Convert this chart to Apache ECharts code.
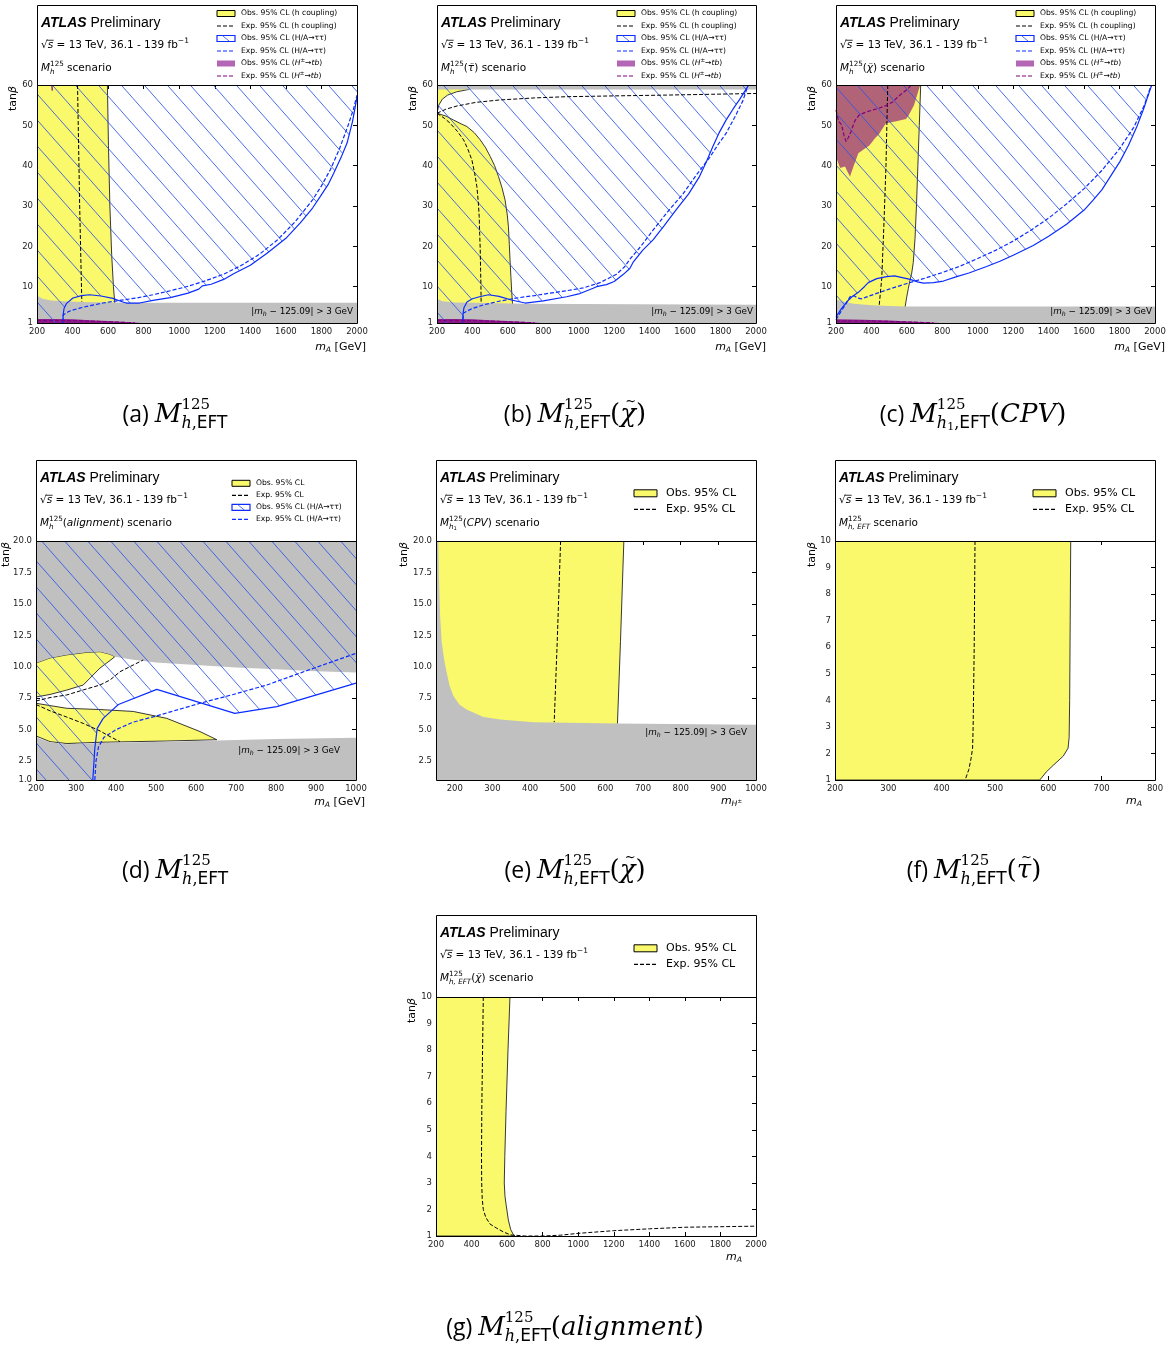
<!DOCTYPE html>
<html><head><meta charset="utf-8">
<script src="https://cdn.jsdelivr.net/npm/echarts@6/dist/echarts.min.js"></script>
<style>html,body{margin:0;padding:0;background:#fff}#main{width:1173px;height:1352px}</style>
</head><body><div id="main"></div>
<script>
// ---------------- tick labels ----------------
const X_TICKS_2000 = [200,400,600,800,1000,1200,1400,1600,1800,2000];
const X_TICKS_1000 = [200,300,400,500,600,700,800,900,1000];
const X_TICKS_800 = [200,300,400,500,600,700,800];
const Y_TICKS_60 = [1,10,20,30,40,50,60];
const Y_TICKS_20D = [1,2.5,5,7.5,10,12.5,15,17.5,20];
const Y_TICKS_20E = [2.5,5,7.5,10,12.5,15,17.5,20];
const Y_TICKS_10 = [1,2,3,4,5,6,7,8,9,10];

// ---------------- (a) M_h^125 ----------------
const A_YELLOW = [[200,1],[200,60],[596,60],[602,45],[610,30],[620,18],[630,10],[637,6.2],[637,1]];
const A_EXP = [[428,60],[440,30],[452,6.3]];
const A_GREY = [[200,1],[200,7.8],[230,7.0],[280,6.6],[350,6.4],[450,6.2],[600,6.1],[800,6.0],[2000,6.0],[2000,1]];
const A_TT_OBS = [[346,1],[347,3.0],[352,4.6],[365,5.8],[402,7.2],[450,7.8],[496,8.0],[560,7.7],[627,7.1],[670,6.4],[702,5.95],[777,5.95],[852,6.6],[950,7.3],[1050,8.4],[1110,9.4],[1130,10.2],[1180,10.6],[1250,11.8],[1306,13.2],[1400,15.3],[1494,18.3],[1600,22],[1681,25.8],[1750,29.5],[1794,32.4],[1840,35.5],[1869,38.1],[1910,42],[1944,45.6],[1975,51],[2000,57]];
const A_TT_EXP = [[346,1.2],[347,3.0],[380,3.9],[440,4.7],[500,5.3],[571,5.95],[650,6.5],[759,7.2],[852,8.0],[950,9.0],[1050,10.1],[1150,11.5],[1250,13.1],[1350,15.3],[1450,18],[1550,21.5],[1650,26],[1750,31.5],[1800,35],[1850,39],[1900,44],[1950,50],[1980,54],[2000,57.5]];
const A_HPM_OBS = [[200,1],[200,2.0],[300,2.0],[400,1.9],[500,1.7],[600,1.5],[700,1.25],[790,1.0]];
const A_HPM_EXP = [[200,1.6],[400,1.6],[600,1.3],[750,1.05]];
const A_HPM_EXP_TOP = [[284,60],[286,58.6]];

// ---------------- (b) M_h^125(stau) ----------------
const B_YELLOW_UP = [[200,53],[210,55],[230,56.5],[260,57.5],[310,58.3],[380,58.9],[420,60],[200,60]];
const B_YELLOW_LOW = [[200,1],[200,53],[250,52.3],[294,51.3],[330,50.5],[369,49.7],[410,48.2],[444,46.4],[475,44.4],[500,42.3],[525,40],[547,37.3],[567,34.5],[584,31.5],[596,28],[603,24.9],[608,20.5],[612,16.7],[617,12.5],[622,8.4],[626,6],[626,1]];
const B_EXP_UP = [[200,53],[250,54],[313,54.8],[420,55.7],[556,56.3],[750,56.8],[931,57.1],[1200,57.3],[1494,57.5],[1750,57.7],[2000,57.9]];
const B_EXP_LOW = [[200,53],[240,51.8],[275,50.5],[315,48.5],[350,46.4],[375,44],[397,41.4],[413,38],[425,34.8],[433,31],[438,27.4],[441,23],[444,19.2],[446,14],[448,10.1],[449,6]];
const B_GREY_TOP = [[200,58.9],[2000,58.9],[2000,60],[200,60]];
const B_GREY_BOT = [[200,1],[200,7.0],[230,6.4],[300,6.1],[400,6.0],[700,5.8],[1000,5.7],[2000,5.5],[2000,1]];
const B_TT_OBS = [[346,1],[347,3.3],[352,4.8],[369,6.2],[400,7.0],[440,7.5],[491,8.0],[550,7.6],[620,6.7],[697,5.95],[800,6.5],[931,7.5],[1000,8.2],[1081,9.6],[1100,10.0],[1156,10.5],[1200,11.3],[1250,13],[1288,14.5],[1306,16],[1360,19],[1419,21.6],[1480,25],[1550,29.1],[1620,33],[1681,37.3],[1720,41],[1756,44.7],[1790,48],[1831,51.3],[1870,54],[1906,56.3],[1953,59.6],[1960,60]];
const B_TT_EXP = [[346,1.8],[350,3.5],[400,4.6],[463,5.5],[550,6.4],[650,7.2],[750,7.8],[838,8.4],[931,9.0],[1025,9.7],[1120,11],[1213,13.1],[1260,15],[1288,16.8],[1350,20],[1419,24],[1500,28.5],[1588,33],[1660,37.5],[1738,42],[1790,45.5],[1831,48],[1880,52],[1925,56],[1953,59.6]];
const B_HPM_OBS = [[200,1],[200,2.0],[300,2.0],[400,1.9],[500,1.7],[600,1.5],[700,1.25],[790,1.0]];
const B_HPM_EXP = [[200,1.6],[400,1.6],[600,1.3],[750,1.05]];

// ---------------- (c) M_h^125(chi) ----------------
const C_YELLOW = [[200,1],[200,60],[678,60],[670,50],[662,40],[654,30],[646,22],[636,16],[626,13],[617,11.5],[608,9.5],[599,7.4],[590,5],[588,1]];
const C_GREY = [[200,1],[200,6.8],[250,6.2],[300,5.8],[400,5.4],[500,5.2],[600,5.1],[2000,5.1],[2000,1]];
const C_HPM_OBS = [[200,60],[675,60],[660,57.8],[640,55],[610,52.5],[595,51.6],[540,51],[482,50.5],[460,49],[444,47.9],[420,46.8],[388,45],[355,44],[326,43.1],[300,40],[279,37.3],[265,38.5],[251,39.8],[237,39.6],[223,39.4],[210,41],[200,42.3]];
const C_HPM_EXP = [[200,53.8],[215,51],[232,50.1],[245,47.5],[257,46],[270,47],[285,48.5],[305,51],[331,52.6],[370,53.3],[407,53.8],[445,54.3],[482,54.9],[520,55.8],[548,57],[575,58],[604,59],[625,60]];
const C_EXP = [[492,60],[482,40],[470,25],[458,12],[444,5.5]];
const C_TT_OBS = [[200,2.5],[230,4.5],[260,6.2],[290,7.5],[326,8.6],[360,10],[382,11],[430,12],[486,12.5],[530,12.7],[580,12.2],[618,11.8],[660,11.2],[693,10.9],[750,11],[806,11.4],[881,12.5],[950,13.4],[1050,15],[1125,16.3],[1200,17.8],[1313,20.2],[1400,22.5],[1501,25.5],[1600,29],[1652,31.5],[1700,34],[1802,41],[1850,45],[1896,49.5],[1935,54],[1972,58.8],[1982,60]];
const C_TT_EXP = [[200,1.8],[230,4],[260,6],[279,7.5],[300,7.8],[320,7.2],[345,7.0],[370,7.4],[420,8.2],[500,9.4],[600,10.8],[700,12.1],[800,13.5],[900,15.1],[1000,17],[1100,19],[1200,21.3],[1300,24],[1400,27],[1500,30.5],[1600,34.3],[1700,38.8],[1800,44.2],[1880,49.5],[1940,55],[1975,59.5],[1980,60]];
const C_HPM_OBS_LOW = [[200,1],[200,1.9],[350,1.8],[500,1.6],[650,1.3],[787,1]];
const C_HPM_EXP_LOW = [[200,1.5],[400,1.5],[600,1.25],[750,1.05]];

// ---------------- (d) M_h^125(alignment) ----------------
const D_YELLOW_UP = [[200,10.3],[235,10.7],[277,10.95],[327,11.15],[360,11.2],[385,11.0],[397,10.8],[385,10.5],[360,9.9],[335,9.1],[318,8.55],[277,8.15],[235,7.8],[200,7.6]];
const D_YELLOW_LOW = [[200,7.1],[277,6.7],[360,6.6],[443,6.45],[527,5.9],[610,4.85],[652,4.2],[527,4.1],[360,4.0],[277,3.9],[235,4.05],[200,4.5]];
const D_GREY_UP = [[200,20],[1000,20],[1000,9.55],[900,9.65],[800,9.8],[700,9.95],[600,10.15],[500,10.35],[443,10.55],[397,10.8],[385,11.0],[360,11.2],[327,11.15],[277,10.95],[235,10.7],[200,10.3]];
const D_GREY_LOW = [[200,1],[200,4.4],[235,4.0],[277,3.85],[360,3.95],[527,4.05],[652,4.15],[800,4.25],[1000,4.35],[1000,1]];
const D_EXP1 = [[200,7.28],[235,7.55],[277,7.76],[318,8.16],[360,8.55],[385,8.95],[410,9.61],[443,10.14],[468,10.54]];
const D_EXP2 = [[200,7.0],[235,6.5],[277,6.0],[318,5.5],[360,4.9],[385,4.45],[410,4.05]];
const D_TT_OBS = [[342,1],[347,3.5],[353,5.1],[368,5.9],[385,6.4],[406,7.0],[502,8.2],[697,6.3],[802,6.83],[1000,8.7]];
const D_TT_EXP = [[347,1],[350,2.5],[356,3.6],[370,4.4],[400,5.0],[443,5.6],[502,6.1],[610,7.1],[693,7.8],[777,8.55],[860,9.5],[1000,11.07]];

// ---------------- (e) M_h1^125(CPV) ----------------
const E_YELLOW = [[150,1],[150,20],[649,20],[640,12],[632,5.5],[632,1]];
const E_GREY = [[150,1],[150,20],[156,20],[158,17],[161,14],[165,12],[172,10.5],[178,9.6],[186,8.5],[196,7.7],[212,7],[231,6.6],[276,6.0],[320,5.8],[409,5.6],[497,5.55],[630,5.5],[1000,5.4],[1000,1]];
const E_EXP = [[481,20],[472,12],[464,5.6]];

// ---------------- (f) M_h,EFT^125 ----------------
const F_YELLOW = [[200,1],[200,10],[642,10],[641,7],[640,4],[639,2.6],[637,2.2],[628,1.9],[609,1.55],[596,1.3],[584,1]];
const F_EXP = [[462.5,10],[461,6],[459,3],[458,2.2],[455,1.8],[451,1.4],[444,1]];

// ---------------- (g) M_h,EFT^125(chi) ----------------
const G_YELLOW = [[200,1],[200,10],[616,10],[605,8],[594,5.7],[587,4],[584,3],[588,2.5],[594,2.2],[607,1.6],[620,1.25],[635,1.05],[645,1]];
const G_EXP = [[466,10],[462,8],[458,6],[456,4],[457,3],[460,2.4],[466,2.0],[480,1.7],[504,1.45],[540,1.3],[580,1.15],[620,1.04],[700,1.0],[800,1.0],[900,1.03],[1000,1.1],[1200,1.2],[1400,1.27],[1600,1.33],[1800,1.35],[2000,1.37]];

// ---------------- styles ----------------
const YEL = '#f9f96b', GREY = '#c0c0c0', BLUE = '#0a2cff', HATCH_COL = 'rgba(45,85,230,0.85)';
const PURP_FILL = 'rgba(128,0,128,0.6)', PURP_BAND = 'rgba(128,0,128,0.85)', PURP_LINE = '#800080';
const SANS = '"DejaVu Sans"', ARIAL = '"Liberation Sans"', SERIF = '"DejaVu Serif"', OPEN = '"Open Sans"';

function makeHatch(){
  const w = 23, h = 26, c = document.createElement('canvas');
  c.width = w; c.height = h;
  const g = c.getContext('2d');
  g.strokeStyle = HATCH_COL; g.lineWidth = 1;
  for (let k = -1; k <= 1; k++){ g.beginPath(); g.moveTo(k*w, 0); g.lineTo(k*w + w, h); g.stroke(); }
  return {image: c, repeat: 'repeat'};
}
const HATCH = makeHatch();

// ---------------- panel layout ----------------
const PANELS = [
  {L:37,  T:5,   W:320, PT:85,  PH:238, xmin:200, xmax:2000, xt:X_TICKS_2000, ymin:1, ymax:60, yt:Y_TICKS_60, yf:v=>String(v), tx:13},
  {L:437, T:5,   W:319, PT:85,  PH:238, xmin:200, xmax:2000, xt:X_TICKS_2000, ymin:1, ymax:60, yt:Y_TICKS_60, yf:v=>String(v), tx:413},
  {L:836, T:5,   W:319, PT:85,  PH:238, xmin:200, xmax:2000, xt:X_TICKS_2000, ymin:1, ymax:60, yt:Y_TICKS_60, yf:v=>String(v), tx:812},
  {L:36,  T:460, W:320, PT:541, PH:239, xmin:200, xmax:1000, xt:X_TICKS_1000, ymin:1, ymax:20, yt:Y_TICKS_20D, yf:v=>Number(v).toFixed(1), tx:6},
  {L:436, T:460, W:320, PT:541, PH:239, xmin:150, xmax:1000, xt:X_TICKS_1000, ymin:1, ymax:20, yt:Y_TICKS_20E, yf:v=>Number(v).toFixed(1), tx:404},
  {L:835, T:460, W:320, PT:541, PH:239, xmin:200, xmax:800,  xt:X_TICKS_800,  ymin:1, ymax:10, yt:Y_TICKS_10, yf:v=>String(v), tx:812},
  {L:436, T:915, W:320, PT:997, PH:239, xmin:200, xmax:2000, xt:X_TICKS_2000, ymin:1, ymax:10, yt:Y_TICKS_10, yf:v=>String(v), tx:412}
];

const grids = [], xAxes = [], yAxes = [], series = [], graphics = [];
PANELS.forEach((p, i) => {
  grids.push({left:p.L, top:p.PT, width:p.W, height:p.PH, show:false});
  const lab = {fontSize:8.5, color:'#222', fontFamily:'DejaVu Sans', hideOverlap:false, showMinLabel:true, showMaxLabel:true};
  const tick = (vals) => ({show:true, inside:true, length:4, customValues:vals, lineStyle:{color:'#000'}});
  xAxes.push({type:'value', gridIndex:i, min:p.xmin, max:p.xmax, position:'bottom',
    axisLine:{show:false}, splitLine:{show:false}, axisTick:tick(p.xt),
    axisLabel:Object.assign({customValues:p.xt, margin:4, formatter:v=>String(v)}, lab)});
  yAxes.push({type:'value', gridIndex:i, min:p.ymin, max:p.ymax, position:'left',
    axisLine:{show:false}, splitLine:{show:false}, axisTick:tick(p.yt),
    axisLabel:Object.assign({customValues:p.yt, margin:4, formatter:p.yf}, lab)});
});
// mirrored ticks on the top and right edges
PANELS.forEach((p, i) => {
  const tick = (vals) => ({show:true, inside:true, length:4, customValues:vals, lineStyle:{color:'#000'}});
  xAxes.push({type:'value', gridIndex:i, min:p.xmin, max:p.xmax, position:'top',
    axisLine:{show:false}, splitLine:{show:false}, axisTick:tick(p.xt), axisLabel:{show:false}});
  yAxes.push({type:'value', gridIndex:i, min:p.ymin, max:p.ymax, position:'right',
    axisLine:{show:false}, splitLine:{show:false}, axisTick:tick(p.yt), axisLabel:{show:false}});
});

function poly(gi, pts, style, z){
  series.push({type:'custom', xAxisIndex:gi, yAxisIndex:gi, z:z, silent:true, animation:false, clip:true,
    data: pts,
    renderItem(params, api){
      if (params.dataIndex !== 0) return null;
      return {type:'polygon', shape:{points: pts.map(q => api.coord(q))}, style: style};
    }});
}
function line(gi, pts, color, width, dashed, z){
  series.push({type:'line', xAxisIndex:gi, yAxisIndex:gi, z:z, silent:true, animation:false, clip:true,
    data: pts, showSymbol:false, symbol:'none',
    lineStyle:{color:color, width:width, type: dashed ? [4,2] : 'solid'}});
}
const yStyle = {fill:YEL, stroke:'#222', lineWidth:0.9};
const gStyle = {fill:GREY};
const hStyle = {fill:HATCH};
const corner = (i, a, b) => [a === 'min' ? PANELS[i].xmin : PANELS[i].xmax, b === 'min' ? PANELS[i].ymin : PANELS[i].ymax];

// (a)
poly(0, A_YELLOW, yStyle, 1);
poly(0, A_GREY, gStyle, 2);
poly(0, A_HPM_OBS, {fill:PURP_BAND}, 3);
poly(0, [corner(0,'min','min')].concat(A_TT_OBS, [corner(0,'max','max'), corner(0,'min','max')]), hStyle, 4);
line(0, A_EXP, '#000', 1, true, 5);
line(0, A_TT_OBS, BLUE, 1.2, false, 5);
line(0, A_TT_EXP, BLUE, 1.2, true, 5);
line(0, A_HPM_EXP, PURP_LINE, 1.2, true, 5);
line(0, A_HPM_EXP_TOP, PURP_LINE, 1.2, false, 5);
// (b)
poly(1, B_YELLOW_UP, yStyle, 1);
poly(1, B_YELLOW_LOW, yStyle, 1);
poly(1, B_GREY_TOP, gStyle, 2);
poly(1, B_GREY_BOT, gStyle, 2);
poly(1, B_HPM_OBS, {fill:PURP_BAND}, 3);
poly(1, [corner(1,'min','min')].concat(B_TT_OBS, [corner(1,'min','max')]), hStyle, 4);
line(1, B_EXP_UP, '#000', 1, true, 5);
line(1, B_EXP_LOW, '#000', 1, true, 5);
line(1, B_TT_OBS, BLUE, 1.2, false, 5);
line(1, B_TT_EXP, BLUE, 1.2, true, 5);
line(1, B_HPM_EXP, PURP_LINE, 1.2, true, 5);
// (c)
poly(2, C_YELLOW, yStyle, 1);
poly(2, C_GREY, gStyle, 2);
poly(2, C_HPM_OBS, {fill:PURP_FILL}, 3);
poly(2, C_HPM_OBS_LOW, {fill:PURP_BAND}, 3);
poly(2, C_TT_OBS.concat([corner(2,'min','max')]), hStyle, 4);
line(2, C_EXP, '#000', 1, true, 5);
line(2, C_HPM_EXP, PURP_LINE, 1.2, true, 5);
line(2, C_HPM_EXP_LOW, PURP_LINE, 1.2, true, 5);
line(2, C_TT_OBS, BLUE, 1.2, false, 5);
line(2, C_TT_EXP, BLUE, 1.2, true, 5);
// (d)
poly(3, D_YELLOW_UP, yStyle, 1);
poly(3, D_YELLOW_LOW, yStyle, 1);
poly(3, D_GREY_UP, gStyle, 2);
poly(3, D_GREY_LOW, gStyle, 2);
poly(3, [corner(3,'min','min')].concat(D_TT_OBS, [corner(3,'max','max'), corner(3,'min','max')]), hStyle, 4);
line(3, D_EXP1, '#000', 1, true, 5);
line(3, D_EXP2, '#000', 1, true, 5);
line(3, D_TT_OBS, BLUE, 1.2, false, 5);
line(3, D_TT_EXP, BLUE, 1.2, true, 5);
// (e)
poly(4, E_YELLOW, yStyle, 1);
poly(4, E_GREY, gStyle, 2);
line(4, E_EXP, '#000', 1, true, 5);
// (f)
poly(5, F_YELLOW, yStyle, 1);
line(5, F_EXP, '#000', 1, true, 5);
// (g)
poly(6, G_YELLOW, yStyle, 1);
line(6, G_EXP, '#000', 1, true, 5);

// ---------------- text helpers ----------------
const mctx = document.createElement('canvas').getContext('2d');
function fontStr(q){ return (q.style||'normal') + ' ' + (q.weight||'normal') + ' ' + q.size + 'px ' + q.family; }
function layout(parts, x, y, out){
  let cx = x;
  for (const q of parts){
    if (q.stack){
      let w = 0;
      for (const s of q.stack){ w = Math.max(w, layout(s.parts, cx, y + s.dy, out)); }
      cx += w; continue;
    }
    mctx.font = fontStr(q);
    const w = mctx.measureText(q.t).width;
    const yy = y + (q.dy||0);
    if (out){
      out.push({type:'text', x:cx, y:yy, z:200, silent:true,
        style:{text:q.t, font:fontStr(q), fill:q.color||'#000', align:'left', verticalAlign:'middle'}});
      if (q.tilde){
        out.push({type:'text', x:cx + w/2 + (q.style === 'italic' ? q.size*0.1 : 0), y:yy - q.size*0.5, z:200, silent:true,
          style:{text:'~', font:'normal normal ' + (q.size*0.5) + 'px ' + q.family, fill:'#000', align:'center', verticalAlign:'middle'}});
      }
      if (q.bar){
        out.push({type:'line', z:200, silent:true, shape:{x1:cx - 1, y1:yy - q.size*0.5, x2:cx + w + 0.5, y2:yy - q.size*0.5}, style:{stroke:'#000', lineWidth:0.8}});
      }
    }
    cx += w;
  }
  return cx - x;
}
function mtext(parts, x, y, align){
  const w = layout(parts, 0, 0, null);
  const x0 = align === 'right' ? x - w : (align === 'center' ? x - w/2 : x);
  const out = [];
  layout(parts, x0, y, out);
  return out;
}
function add(arr){ arr.forEach(e => graphics.push(e)); }
const P = (t, size, family, style, weight, dy, extra) => Object.assign({t, size, family, style, weight, dy}, extra || {});

// frames, headers
PANELS.forEach(p => {
  graphics.push({type:'rect', z:150, silent:true, shape:{x:p.L+0.5, y:p.T+0.5, width:p.W, height:p.PT-p.T}, style:{fill:'#fff', stroke:'#000', lineWidth:1}});
  graphics.push({type:'rect', z:150, silent:true, shape:{x:p.L+0.5, y:p.PT+0.5, width:p.W, height:p.PH}, style:{fill:null, stroke:'#000', lineWidth:1}});
  add(mtext([P('ATLAS',14,ARIAL,'italic','bold'), P(' Preliminary',14,ARIAL)], p.L+4, p.T+18.5, 'left'));
  add(mtext([P('√',10.5,SANS), P('s',10.5,SANS,'italic',null,0,{bar:true}), P(' = 13 TeV, 36.1 - 139 fb',10.5,SANS), P('−1',7.5,SANS,null,null,-4)], p.L+4, p.T+40.5, 'left'));
  graphics.push({type:'group', x:p.tx, y:p.PT+1, rotation:Math.PI/2, silent:true, z:200,
    children: mtext([P('tan',11,SANS), P('β',11,SANS,'italic')], 0, 0, 'right')});
});

// scenario labels
const SC = 10.5, SS = 7.2;
const Mstack = (sub) => [P('M',SC,SANS,'italic'), {stack:[{dy:-4.5, parts:[P('125',SS,SANS)]},{dy:3.5, parts:sub}]}];
const scen = [
  Mstack([P('h',SS,SANS,'italic')]).concat([P(' scenario',SC,SANS)]),
  Mstack([P('h',SS,SANS,'italic')]).concat([P('(',SC,SANS), P('τ',SC,SANS,'italic',null,0,{tilde:true}), P(') scenario',SC,SANS)]),
  Mstack([P('h',SS,SANS,'italic')]).concat([P('(',SC,SANS), P('χ',SC,SANS,'italic',null,0,{tilde:true}), P(') scenario',SC,SANS)]),
  Mstack([P('h',SS,SANS,'italic')]).concat([P('(',SC,SANS), P('alignment',SC,SANS,'italic'), P(') scenario',SC,SANS)]),
  Mstack([P('h',SS,SANS,'italic'), P('1',5.2,SANS,null,null,2)]).concat([P('(',SC,SANS), P('CPV',SC,SANS,'italic'), P(') scenario',SC,SANS)]),
  Mstack([P('h, EFT',SS,SANS,'italic')]).concat([P(' scenario',SC,SANS)]),
  Mstack([P('h, EFT',SS,SANS,'italic')]).concat([P('(',SC,SANS), P('χ',SC,SANS,'italic',null,0,{tilde:true}), P(') scenario',SC,SANS)])
];
PANELS.forEach((p, i) => add(mtext(scen[i], p.L+4, p.T+63.5, 'left')));

// legends
function swatch(kind, x, y, w, h){
  if (kind === 'yellow') graphics.push({type:'rect', z:200, silent:true, shape:{x:x, y:y-h/2, width:w, height:h}, style:{fill:YEL, stroke:'#000', lineWidth:1}});
  else if (kind === 'purple') graphics.push({type:'rect', z:200, silent:true, shape:{x:x, y:y-h/2, width:w, height:h}, style:{fill:PURP_FILL}});
  else if (kind === 'hatch'){
    graphics.push({type:'rect', z:200, silent:true, shape:{x:x, y:y-h/2, width:w, height:h}, style:{fill:'#fff', stroke:BLUE, lineWidth:1.2}});
    graphics.push({type:'line', z:201, silent:true, shape:{x1:x+w*0.3, y1:y-h/2, x2:x+w*0.7, y2:y+h/2}, style:{stroke:HATCH_COL, lineWidth:1}});
  } else {
    const col = kind === 'kdash' ? '#000' : (kind === 'bdash' ? BLUE : PURP_LINE);
    graphics.push({type:'line', z:200, silent:true, shape:{x1:x, y1:y, x2:x+w, y2:y}, style:{stroke:col, lineWidth:1.2, lineDash:[4,2]}});
  }
}
const LS = 7.6;
const HA = () => [P('(H/A→ττ)',LS,SANS)];
const HPM = () => [P('(',LS,SANS), P('H',LS,SANS,'italic'), P('±',5.5,SANS,null,null,-2.5), P('→',LS,SANS), P('tb',LS,SANS,'italic'), P(')',LS,SANS)];
const LEG6 = [
  ['yellow', [P('Obs. 95% CL (h coupling)',LS,SANS)]],
  ['kdash',  [P('Exp. 95% CL (h coupling)',LS,SANS)]],
  ['hatch',  [P('Obs. 95% CL ',LS,SANS)].concat(HA())],
  ['bdash',  [P('Exp. 95% CL ',LS,SANS)].concat(HA())],
  ['purple', [P('Obs. 95% CL ',LS,SANS)].concat(HPM())],
  ['pdash',  [P('Exp. 95% CL ',LS,SANS)].concat(HPM())]
];
[0,1,2].forEach(i => {
  const p = PANELS[i];
  LEG6.forEach((e, k) => { const y = p.T + 8.5 + 12.5*k; swatch(e[0], p.L+180, y, 18, 6); add(mtext(e[1], p.L+204, y, 'left')); });
});
const LEG4 = [
  ['yellow', [P('Obs. 95% CL',LS,SANS)]],
  ['kdash',  [P('Exp. 95% CL',LS,SANS)]],
  ['hatch',  [P('Obs. 95% CL ',LS,SANS)].concat(HA())],
  ['bdash',  [P('Exp. 95% CL ',LS,SANS)].concat(HA())]
];
LEG4.forEach((e, k) => { const p = PANELS[3]; const y = p.T + 23.3 + 12*k; swatch(e[0], p.L+196, y, 18, 6); add(mtext(e[1], p.L+220, y, 'left')); });
[4,5,6].forEach(i => {
  const p = PANELS[i];
  swatch('yellow', p.L+198, p.T+33.3, 23, 7); add(mtext([P('Obs. 95% CL',11,SANS)], p.L+230, p.T+33.3, 'left'));
  swatch('kdash', p.L+198, p.T+49.3, 23, 7); add(mtext([P('Exp. 95% CL',11,SANS)], p.L+230, p.T+49.3, 'left'));
});

// |m_h - 125.09| > 3 GeV
const MH = [P('|',8.8,SANS), P('m',8.8,SANS,'italic'), P('h',6.2,SANS,'italic',null,2.5), P(' − 125.09| > 3 GeV',8.8,SANS)];
add(mtext(MH, 353, 312, 'right'));
add(mtext(MH, 753, 312, 'right'));
add(mtext(MH, 1152, 312, 'right'));
add(mtext(MH, 340, 751, 'right'));
add(mtext(MH, 747, 733, 'right'));

// axis names
const mA_GeV = [P('m',11,SANS,'italic'), P('A',7.7,SANS,'italic',null,3), P(' [GeV]',11,SANS)];
const mA = [P('m',11,SANS,'italic'), P('A',7.7,SANS,'italic',null,3)];
const mH = [P('m',11,SANS,'italic'), P('H',7.7,SANS,'italic',null,3), P('±',5.5,SANS,null,null,0.5)];
add(mtext(mA_GeV, 366, 347, 'right'));
add(mtext(mA_GeV, 766, 347, 'right'));
add(mtext(mA_GeV, 1165, 347, 'right'));
add(mtext(mA_GeV, 365, 802, 'right'));
add(mtext(mH, 742, 801, 'right'));
add(mtext(mA, 1142, 801, 'right'));
add(mtext(mA, 742, 1257, 'right'));

// captions
const PF = 23, CS = 26, CSS = 15;
const capM = (sub) => [P('M',CS,SERIF,'italic'), {stack:[{dy:-10, parts:[P('125',CSS,SERIF)]},{dy:9, parts:sub}]}];
const subEFT = [P('h',16,SERIF,'italic'), P(',',16,SERIF), P('EFT',17,SANS)];
const subEFT1 = [P('h',16,SERIF,'italic'), P('1',11,SERIF,null,null,3.5), P(',',16,SERIF), P('EFT',17,SANS)];
const paren = (inner, tilde) => [P('(',CS,SERIF), P(inner,CS,SERIF,'italic',null,0,{tilde:!!tilde}), P(')',CS,SERIF)];
const CAPS = [
  [175, 415, [P('(a) ',PF,OPEN)].concat(capM(subEFT))],
  [575, 415, [P('(b) ',PF,OPEN)].concat(capM(subEFT), paren('χ', true))],
  [973, 415, [P('(c) ',PF,OPEN)].concat(capM(subEFT1), paren('CPV'))],
  [175, 871, [P('(d) ',PF,OPEN)].concat(capM(subEFT))],
  [575, 871, [P('(e) ',PF,OPEN)].concat(capM(subEFT), paren('χ', true))],
  [974, 871, [P('(f) ',PF,OPEN)].concat(capM(subEFT), paren('τ', true))],
  [575, 1328, [P('(g) ',PF,OPEN)].concat(capM(subEFT), paren('alignment'))]
];
CAPS.forEach(c => add(mtext(c[2], c[0], c[1], 'center')));

const chart = echarts.init(document.getElementById('main'), null, {renderer:'canvas'});
chart.setOption({
  animation:false,
  backgroundColor:'#fff',
  grid: grids, xAxis: xAxes, yAxis: yAxes, series: series,
  graphic: {elements: graphics}
});
</script></body></html>
